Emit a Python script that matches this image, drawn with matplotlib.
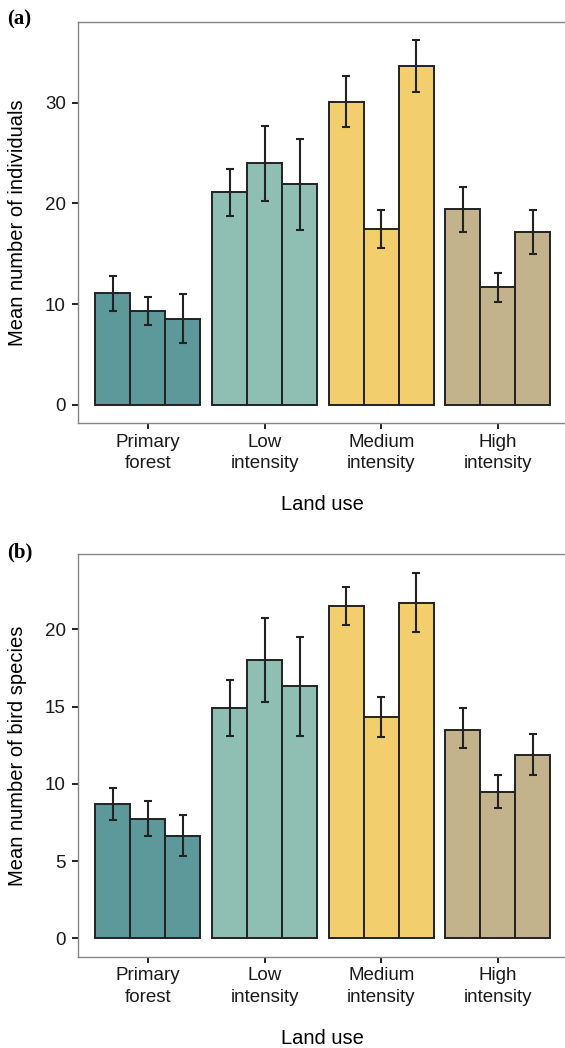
import numpy as np
import matplotlib
matplotlib.use("Agg")
import matplotlib.pyplot as plt

plt.rcParams['font.family'] = ['Liberation Sans', 'DejaVu Sans']

# land use categories (x axis)
land_use = ['Primary\nforest', 'Low\nintensity', 'Medium\nintensity', 'High\nintensity']
fills = ['#5D999A', '#8FBFB3', '#F2CF6C', '#C3B38D']

# (a) mean number of individuals, three bars per land use
indiv_mean = [[11.1, 9.3, 8.55],
              [21.1, 24.0, 21.9],
              [30.1, 17.5, 33.65],
              [19.4, 11.65, 17.2]]
indiv_lo = [[9.35, 7.9, 6.1],
            [18.7, 20.2, 17.4],
            [27.6, 15.6, 31.1],
            [17.2, 10.25, 15.0]]
indiv_hi = [[12.8, 10.75, 10.95],
            [23.4, 27.7, 26.4],
            [32.6, 19.3, 36.2],
            [21.6, 13.05, 19.3]]

# (b) mean number of bird species
spec_mean = [[8.7, 7.75, 6.6],
             [14.9, 18.0, 16.3],
             [21.5, 14.3, 21.7],
             [13.5, 9.5, 11.85]]
spec_lo = [[7.65, 6.65, 5.3],
           [13.1, 15.3, 13.1],
           [20.3, 13.0, 19.8],
           [12.3, 8.45, 10.6]]
spec_hi = [[9.75, 8.9, 8.0],
           [16.7, 20.75, 19.5],
           [22.7, 15.6, 23.65],
           [14.9, 10.55, 13.2]]

fig = plt.figure(figsize=(5.65, 10.48), dpi=100)
ax_a = fig.add_axes([0.138, 0.5964, 0.867, 0.3826])
ax_b = fig.add_axes([0.138, 0.0871, 0.867, 0.3838])


def draw_panel(ax, mean, lo, hi, ylabel, ticks):
    mean = np.array(mean)
    lo = np.array(lo)
    hi = np.array(hi)
    w = 0.3
    for i in range(len(land_use)):
        for j in range(3):
            x = i + 1 + (j - 1) * w
            ax.bar(x, mean[i, j], width=w, color=fills[i], edgecolor='#222222',
                   linewidth=1.4, zorder=2)
            ax.errorbar(x, mean[i, j],
                        yerr=[[mean[i, j] - lo[i, j]], [hi[i, j] - mean[i, j]]],
                        fmt='none', ecolor='#222222', elinewidth=1.5,
                        capsize=2.8, capthick=1.5, zorder=3)
    top = hi.max()
    ax.set_ylim(-0.05 * top, 1.05 * top)
    ax.set_xlim(0.4, 4.6)
    ax.set_xticks(range(1, 5))
    ax.set_xticklabels(land_use, linespacing=1.35)
    ax.set_yticks(ticks)
    ax.set_xlabel('Land use', fontsize=14.5)
    ax.set_ylabel(ylabel, fontsize=14.5)
    ax.xaxis.set_label_coords(0.5, -0.18)
    ax.yaxis.set_label_coords(-0.104, 0.5)
    for s in ax.spines.values():
        s.set_color('#858585')
        s.set_linewidth(1.0)
    ax.tick_params(axis='both', labelsize=13.5, colors='#222222', width=1.4,
                   length=4.2, labelcolor='#1a1a1a')
    ax.tick_params(axis='x', pad=3.5)
    ax.tick_params(axis='y', pad=4.5)


draw_panel(ax_a, indiv_mean, indiv_lo, indiv_hi,
           'Mean number of individuals', [0, 10, 20, 30])
draw_panel(ax_b, spec_mean, spec_lo, spec_hi,
           'Mean number of bird species', [0, 5, 10, 15, 20])

fig.text(0.013, 0.981, '(a)', fontsize=15, fontweight='bold',
         family='Liberation Serif', va='center')
fig.text(0.013, 0.473, '(b)', fontsize=15, fontweight='bold',
         family='Liberation Serif', va='center')

fig.savefig('out.png', dpi=100)
